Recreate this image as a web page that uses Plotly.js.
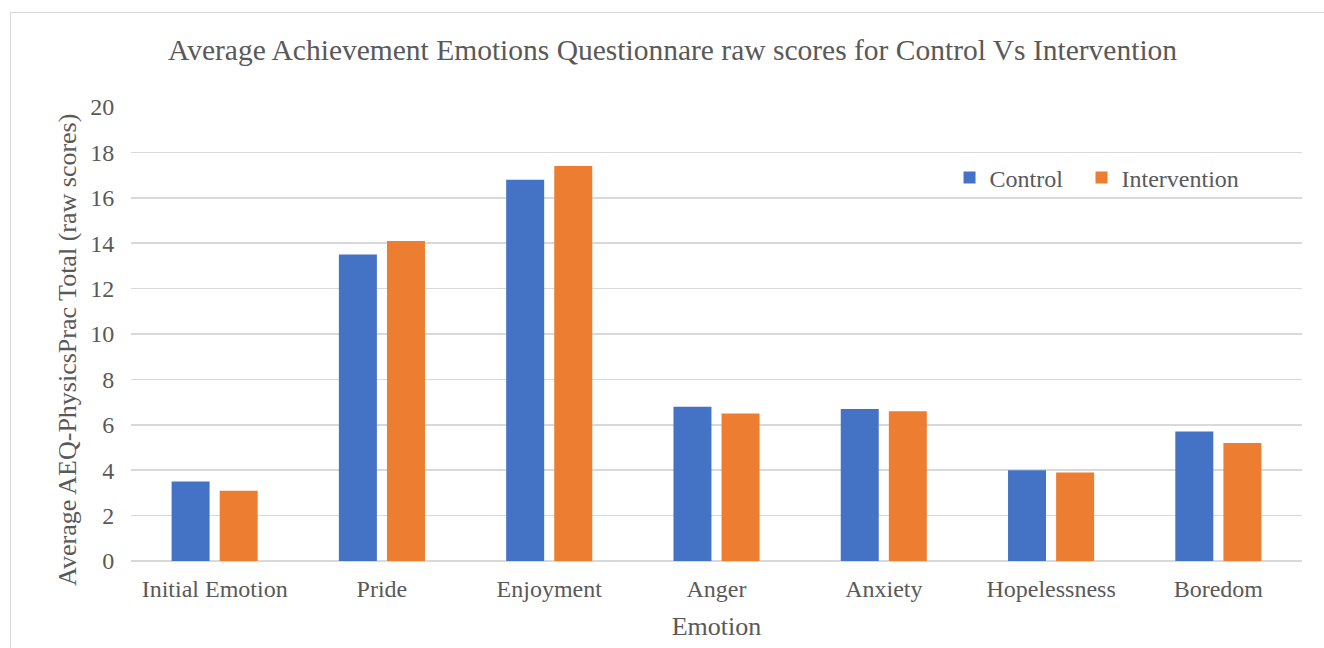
<!DOCTYPE html>
<html>
<head>
<meta charset="utf-8">
<script src="https://cdn.plot.ly/plotly-3.0.1.min.js"></script>
<style>
  html, body { margin: 0; padding: 0; background: #fff; }
  #wrap { position: relative; width: 1324px; height: 648px; overflow: hidden; }
  #chart { width: 1324px; height: 648px; }
  #frame { position: absolute; left: 10px; top: 12px; width: 1330px; height: 660px;
           border: 1.5px solid #d9d9d9; pointer-events: none; }
</style>
</head>
<body>
<div id="wrap">
  <div id="chart"></div>
  <div id="frame"></div>
</div>
<script>
// Average AEQ-PhysicsPrac raw scores per emotion
const emotions = ["Initial Emotion", "Pride", "Enjoyment", "Anger", "Anxiety", "Hopelessness", "Boredom"];
const controlScores = [3.5, 13.5, 16.8, 6.8, 6.7, 4.0, 5.7];
const interventionScores = [3.1, 14.1, 17.4, 6.5, 6.6, 3.9, 5.2];
const yTicks = [0, 2, 4, 6, 8, 10, 12, 14, 16, 18, 20];

const textColor = "#595959";
const serif = "Liberation Serif, Times New Roman, serif";

const traces = [
  { type: "bar", name: "Control", x: emotions, y: controlScores,
    marker: { color: "#4472c4" }, legend: "legend" },
  { type: "bar", name: "Intervention", x: emotions, y: interventionScores,
    marker: { color: "#ed7d31" }, legend: "legend2" }
];

// shared legend styling; each series gets its own legend box so the spacing can be set
const legendBase = {
  orientation: "h", y: 0.844, xanchor: "left", yanchor: "middle",
  font: { family: serif, size: 24, color: textColor }, bgcolor: "rgba(0,0,0,0)",
  itemwidth: 30
};

const layout = {
  width: 1324, height: 648,
  margin: { l: 131, r: 22, t: 107, b: 87 },
  paper_bgcolor: "#ffffff", plot_bgcolor: "#ffffff",
  font: { family: serif, color: textColor, size: 24 },
  title: {
    text: "Average Achievement Emotions Questionnare raw scores for Control Vs Intervention",
    font: { family: serif, size: 29.5, color: textColor },
    x: 0.508, xref: "container", xanchor: "center", y: 0.923, yanchor: "middle"
  },
  barmode: "group",
  bargap: 0.425,
  bargroupgap: 0.21,
  xaxis: {
    type: "category",
    title: { text: "Emotion", font: { family: serif, size: 26, color: textColor }, standoff: 16 },
    tickfont: { family: serif, size: 24, color: textColor },
    showline: false, ticks: "outside", ticklen: 6, tickcolor: "rgba(0,0,0,0)", showgrid: false
  },
  yaxis: {
    range: [0, 20], tickvals: yTicks, ticktext: yTicks.map(String),
    tickfont: { family: serif, size: 24, color: textColor },
    gridcolor: "#d9d9d9", gridwidth: 1.5,
    zeroline: true, zerolinecolor: "#d9d9d9", zerolinewidth: 1.5,
    showline: false, ticks: "outside", ticklen: 11, tickcolor: "rgba(0,0,0,0)"
  },
  // vertical axis title, placed slightly below the plot's mid-height
  annotations: [{
    text: "Average AEQ-PhysicsPrac Total (raw scores)",
    xref: "paper", yref: "paper", x: 0, y: 0.465, xshift: -63,
    xanchor: "center", yanchor: "middle", textangle: -90, showarrow: false,
    font: { family: serif, size: 26, color: textColor }
  }],
  showlegend: true,
  legend: Object.assign({}, legendBase, { x: 0.699 }),
  legend2: Object.assign({}, legendBase, { x: 0.8117 })
};

Plotly.newPlot("chart", traces, layout, { displayModeBar: false, staticPlot: true });
</script>
</body>
</html>
